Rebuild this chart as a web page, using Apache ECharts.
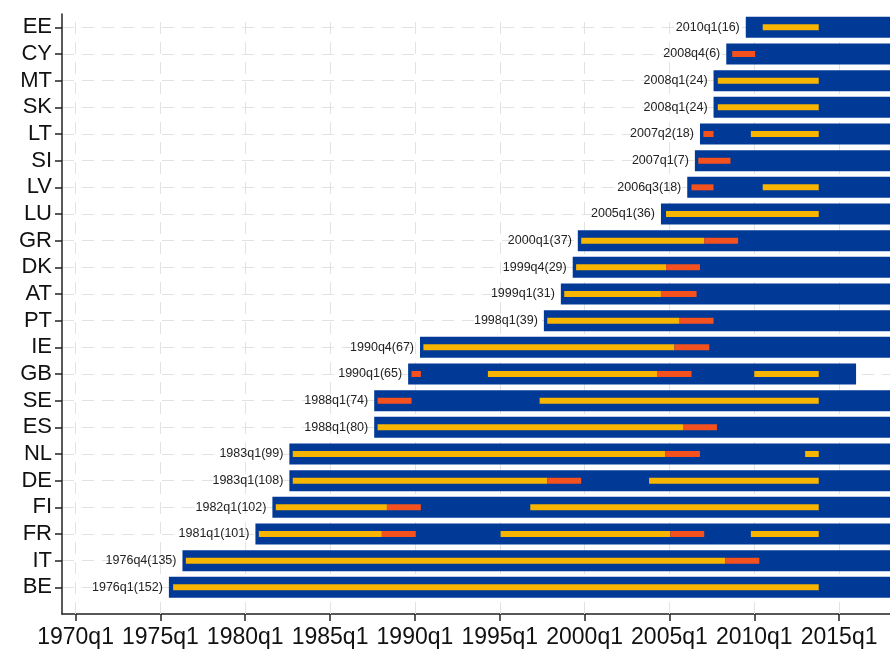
<!DOCTYPE html>
<html><head><meta charset="utf-8">
<script src="https://cdn.jsdelivr.net/npm/echarts@6/dist/echarts.min.js"></script>
<style>html,body{margin:0;padding:0;background:#fff}#c{width:890px;height:652px}</style>
</head><body><div id="c"></div>
<script>
const countries = ['BE','IT','FR','FI','DE','NL','ES','SE','GB','IE','PT','AT','DK','GR','LU','LV','SI','LT','SK','MT','CY','EE'];
const startLabels = ['1976q1(152)','1976q4(135)','1981q1(101)','1982q1(102)','1983q1(108)','1983q1(99)','1988q1(80)','1988q1(74)','1990q1(65)','1990q4(67)','1998q1(39)','1999q1(31)','1999q4(29)','2000q1(37)','2005q1(36)','2006q3(18)','2007q1(7)','2007q2(18)','2008q1(24)','2008q1(24)','2008q4(6)','2010q1(16)'];
const blueStart = [1975.5,1976.3,1980.6,1981.6,1982.6,1982.6,1987.6,1987.6,1989.6,1990.3,1997.6,1998.6,1999.3,1999.6,2004.5,2006.05,2006.5,2006.8,2007.6,2007.6,2008.35,2009.5];
const blueEnd = [2018,2018,2018,2018,2018,2018,2018,2018,2016.0,2018,2018,2018,2018,2018,2018,2018,2018,2018,2018,2018,2018,2018];
const yellow = [
 ['BE',1975.75,2013.8],['IT',1976.5,2008.3],
 ['FR',1980.8,1988.05],['FR',1995.05,2005.05],['FR',2009.8,2013.8],
 ['FI',1981.8,1988.35],['FI',1996.8,2013.8],
 ['DE',1982.8,1997.8],['DE',2003.8,2013.8],
 ['NL',1982.8,2004.75],['NL',2013.0,2013.8],
 ['ES',1987.8,2005.8],['SE',1997.35,2013.8],
 ['GB',1994.3,2004.3],['GB',2010.0,2013.8],
 ['IE',1990.5,2005.3],['PT',1997.8,2005.6],['AT',1998.8,2004.5],['DK',1999.5,2004.8],['GR',1999.8,2007.05],
 ['LU',2004.8,2013.8],['LV',2010.5,2013.8],['LT',2009.8,2013.8],['SK',2007.85,2013.8],['MT',2007.85,2013.8],['EE',2010.5,2013.8]
];
const red = [
 ['IT',2008.3,2010.3],['FR',1988.05,1990.05],['FR',2005.05,2007.05],['FI',1988.35,1990.35],['DE',1997.8,1999.8],
 ['NL',2004.75,2006.8],['ES',2005.8,2007.8],['SE',1987.8,1989.8],['GB',1989.8,1990.35],['GB',2004.3,2006.3],
 ['IE',2005.3,2007.35],['PT',2005.6,2007.6],['AT',2004.5,2006.6],['DK',2004.8,2006.8],['GR',2007.05,2009.05],
 ['LV',2006.3,2007.6],['SI',2006.7,2008.6],['LT',2007.0,2007.6],['CY',2008.7,2010.05]
];
const xTicks = [1970,1975,1980,1985,1990,1995,2000,2005,2010,2015];

const idx = c => countries.indexOf(c);
const blueData = countries.map((c,i)=>[i,blueStart[i],blueEnd[i]]);
function rectItem(h,color,withLabel){
  return function(params,api){
    const a = api.coord([api.value(1),api.value(0)]);
    const b = api.coord([api.value(2),api.value(0)]);
    const cs = params.coordSys;
    const r = echarts.graphic.clipRectByRect({x:a[0],y:a[1]-h/2,width:b[0]-a[0],height:h},{x:cs.x,y:cs.y,width:cs.width,height:cs.height});
    const children=[{type:'rect',shape:r,style:{fill:color}}];
    if(withLabel){children.push({type:'text',style:{text:startLabels[api.value(0)],x:a[0]-6,y:a[1],align:'right',verticalAlign:'middle',fontSize:12.5,fontFamily:'Liberation Sans, Arial',fill:'#222'}});}
    return {type:'group',children};
  };
}
const chart = echarts.init(document.getElementById('c'));
chart.setOption({
  animation:false,
  grid:{left:62,right:0,top:14,bottom:38},
  xAxis:{type:'value',min:1969.2,max:2018,
    axisLine:{show:true,onZero:false,lineStyle:{color:'#222',width:1.5}},
    axisTick:{show:true,customValues:xTicks,length:7,lineStyle:{color:'#222',width:1.5}},
    axisLabel:{customValues:xTicks,formatter:v=>Math.round(v)+'q1',fontSize:23,color:'#111',fontFamily:'Liberation Sans, Arial',margin:12},
    splitLine:{show:false}},
  yAxis:{type:'value',min:-1,max:21.5,interval:1,
    axisLine:{show:true,onZero:false,lineStyle:{color:'#222',width:1.5}},
    axisTick:{show:true,customValues:countries.map((c,i)=>i),length:7,lineStyle:{color:'#222',width:1.5}},
    axisLabel:{customValues:countries.map((c,i)=>i),formatter:v=>countries[Math.round(v)]||'',fontSize:22,color:'#111',fontFamily:'Liberation Sans, Arial',margin:10},
    splitLine:{show:true,lineStyle:{color:'#e2e2e2',type:[12,8],width:1}}},
  series:[
    {type:'custom',renderItem:rectItem(21,'#003a96',true),data:blueData,encode:{x:[1,2],y:0},z:3,
     markLine:{silent:true,symbol:'none',label:{show:false},lineStyle:{color:'#e2e2e2',type:[12,8],width:1},data:xTicks.map(v=>({xAxis:v})),z:1}},
    {type:'custom',renderItem:rectItem(6,'#f7b500',false),data:yellow.map(d=>[idx(d[0]),d[1],d[2]]),encode:{x:[1,2],y:0},z:4},
    {type:'custom',renderItem:rectItem(6,'#f4511e',false),data:red.map(d=>[idx(d[0]),d[1],d[2]]),encode:{x:[1,2],y:0},z:5}
  ]
});
</script></body></html>
